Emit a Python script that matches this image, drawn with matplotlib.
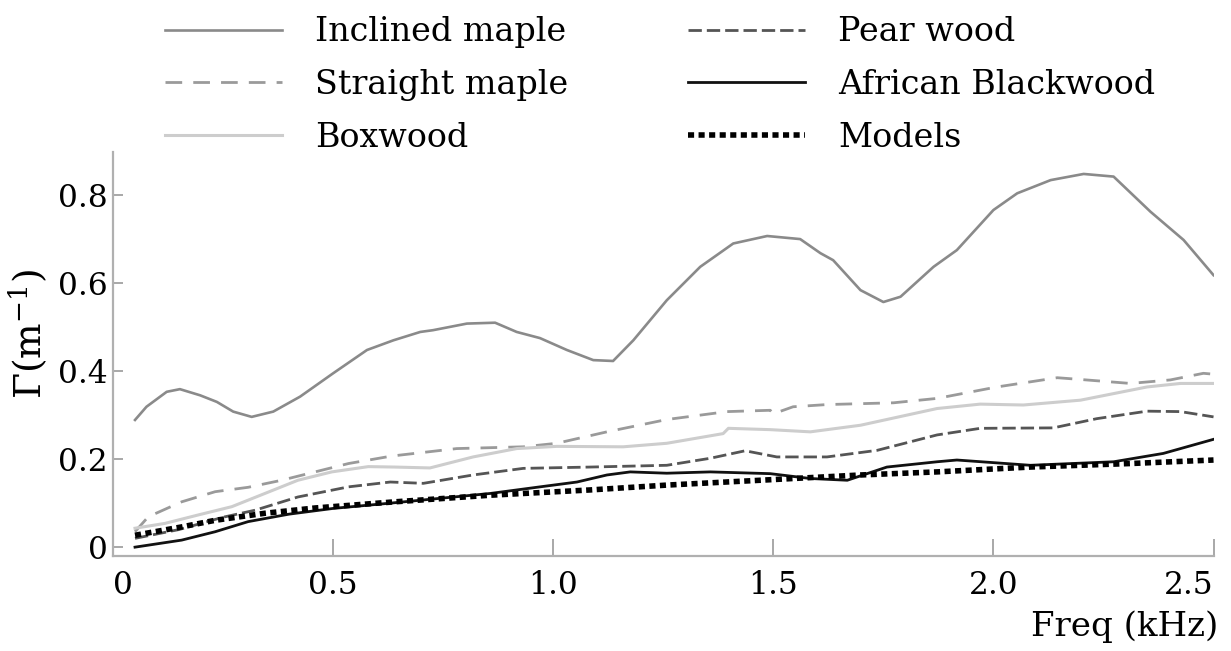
import numpy as np
import matplotlib
matplotlib.use("Agg")
import matplotlib.pyplot as plt

plt.rcParams['font.family'] = ['DejaVu Serif']
plt.rcParams['mathtext.fontset'] = 'dejavuserif'

# data (freq in kHz, attenuation in 1/m)
inclined_x = [0.05, 0.076, 0.122, 0.152, 0.198, 0.236, 0.273, 0.315, 0.364, 0.425, 0.5, 0.577, 0.637,
              0.698, 0.727, 0.804, 0.868, 0.917, 0.97, 1.031, 1.091, 1.136, 1.182, 1.258, 1.334, 1.409,
              1.486, 1.561, 1.607, 1.636, 1.698, 1.75, 1.789, 1.864, 1.917, 2.0, 2.054, 2.13, 2.205,
              2.273, 2.357, 2.432, 2.5]
inclined_y = [0.289, 0.319, 0.353, 0.359, 0.345, 0.330, 0.308, 0.296, 0.308, 0.342, 0.395, 0.448, 0.47,
              0.489, 0.493, 0.508, 0.510, 0.489, 0.475, 0.448, 0.425, 0.423, 0.47, 0.561, 0.637, 0.690,
              0.707, 0.700, 0.668, 0.652, 0.584, 0.557, 0.569, 0.637, 0.675, 0.766, 0.804, 0.834, 0.848,
              0.842, 0.762, 0.698, 0.618]

straight_x = [0.05, 0.08, 0.156, 0.232, 0.307, 0.383, 0.459, 0.535, 0.633, 0.781, 0.932, 1.008, 1.122,
              1.258, 1.395, 1.493, 1.5, 1.545, 1.622, 1.773, 1.872, 2.008, 2.145, 2.198, 2.311, 2.402,
              2.477, 2.5]
straight_y = [0.035, 0.069, 0.103, 0.126, 0.136, 0.152, 0.171, 0.19, 0.207, 0.224, 0.228, 0.236, 0.262,
              0.29, 0.308, 0.311, 0.303, 0.319, 0.324, 0.328, 0.338, 0.364, 0.385, 0.381, 0.372, 0.38,
              0.395, 0.393]

box_x = [0.05, 0.118, 0.193, 0.27, 0.345, 0.42, 0.497, 0.58, 0.64, 0.72, 0.818, 0.917, 1.008, 1.159,
         1.258, 1.386, 1.398, 1.493, 1.584, 1.698, 1.872, 1.97, 2.068, 2.198, 2.349, 2.425, 2.5]
box_y = [0.043, 0.054, 0.073, 0.092, 0.122, 0.152, 0.171, 0.183, 0.182, 0.18, 0.205, 0.224, 0.229, 0.228,
         0.236, 0.258, 0.27, 0.267, 0.262, 0.277, 0.315, 0.325, 0.323, 0.334, 0.364, 0.372, 0.372]

pear_x = [0.05, 0.15, 0.25, 0.323, 0.42, 0.535, 0.63, 0.705, 0.818, 0.932, 1.084, 1.258, 1.357, 1.436,
          1.508, 1.622, 1.736, 1.872, 1.97, 2.136, 2.235, 2.349, 2.425, 2.5]
pear_y = [0.02, 0.04, 0.068, 0.084, 0.114, 0.137, 0.148, 0.145, 0.164, 0.179, 0.182, 0.186, 0.202, 0.219,
          0.205, 0.205, 0.22, 0.255, 0.27, 0.271, 0.292, 0.309, 0.308, 0.296]

black_x = [0.05, 0.156, 0.232, 0.307, 0.4, 0.5, 0.63, 0.857, 0.97, 1.054, 1.122, 1.175, 1.258, 1.357,
           1.493, 1.584, 1.668, 1.758, 1.872, 1.917, 2.084, 2.273, 2.386, 2.5]
black_y = [0.0, 0.016, 0.035, 0.058, 0.075, 0.088, 0.1, 0.122, 0.137, 0.148, 0.164, 0.171, 0.168, 0.171,
           0.167, 0.156, 0.152, 0.182, 0.194, 0.198, 0.186, 0.194, 0.213, 0.245]

models_x = [0.05, 0.156, 0.232, 0.345, 0.459, 0.64, 0.857, 1.084, 1.258, 1.47, 1.698, 1.872, 2.084, 2.311, 2.5]
models_y = [0.027, 0.046, 0.061, 0.077, 0.089, 0.103, 0.118, 0.13, 0.141, 0.152, 0.164, 0.171, 0.182, 0.19, 0.198]

xticks = [0, 0.5, 1.0, 1.5, 2.0, 2.5]
xtick_labels = ["0", "0.5", "1.0", "1.5", "2.0", "2.5"]
yticks = [0, 0.2, 0.4, 0.6, 0.8]
ytick_labels = ["0", "0.2", "0.4", "0.6", "0.8"]

fig = plt.figure(figsize=(12.31, 6.51), dpi=100)
ax = fig.add_axes([0.0918, 0.146, 0.894, 0.6206])

ax.plot(inclined_x, inclined_y, color="#8a8a8a", lw=1.9, label="Inclined maple")
ax.plot(straight_x, straight_y, color="#9a9a9a", lw=2.0, ls=(0, (6, 4)), label="Straight maple")
ax.plot(box_x, box_y, color="#cdcdcd", lw=2.2, label="Boxwood")
ax.plot(pear_x, pear_y, color="#555555", lw=2.0, ls=(0, (4.8, 1.8)), label="Pear wood")
ax.plot(black_x, black_y, color="#111111", lw=2.0, label="African Blackwood")
ax.plot(models_x, models_y, color="black", lw=4.0, ls=(0, (1.1, 0.8)), label="Models")

ax.set_xlim(0, 2.5)
ax.set_ylim(-0.02, 0.898)
ax.set_xticks(xticks)
ax.set_xticklabels(xtick_labels)
ax.set_yticks(yticks)
ax.set_yticklabels(ytick_labels)

for s in ["top", "right"]:
    ax.spines[s].set_visible(False)
for s in ["left", "bottom"]:
    ax.spines[s].set_color("#b0b0b0")
    ax.spines[s].set_linewidth(1.6)

ax.tick_params(axis="y", direction="in", length=7, width=1.2, color="#999999",
               labelsize=22.5, pad=4)
ax.tick_params(axis="x", direction="in", length=12, width=1.2, color="#999999",
               labelsize=22.5, pad=10)

# first and last x labels sit inside the axis ends
xl = ax.get_xticklabels()
xl[0].set_horizontalalignment("left")
xl[-1].set_horizontalalignment("right")

ax.set_ylabel(r"Γ(m$^{-1}$)", fontsize=27)
ax.yaxis.set_label_coords(-0.057, 0.55)
fig.text(0.99, 0.037, "Freq (kHz)", fontsize=24.5, ha="right", va="center")

fig.legend(loc="upper left", bbox_to_anchor=(0.134, 0.975), ncol=2, frameon=False,
           fontsize=24, handlelength=3.5, handletextpad=1.0, labelspacing=0.62,
           columnspacing=3.6, borderpad=0, borderaxespad=0)

fig.savefig("out.png", dpi=100)
